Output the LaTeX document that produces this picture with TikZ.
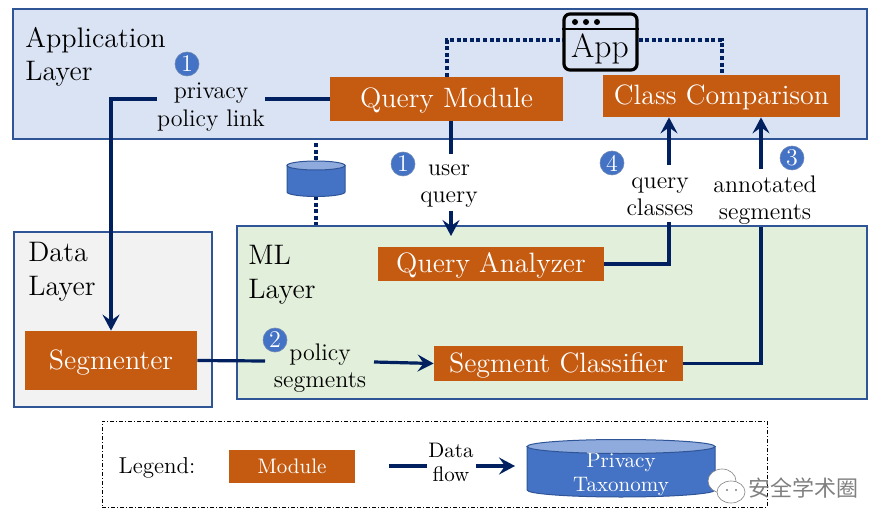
\documentclass[tikz,border=0pt]{standalone}
\usepackage{fontspec}
\newfontfamily\cjk{Noto Sans CJK SC}
\usetikzlibrary{calc,arrows.meta,positioning}
\definecolor{mdlc}{HTML}{C55A11}
\definecolor{flwc}{HTML}{002060}
\definecolor{bluec}{HTML}{4472C4}
\definecolor{lidc}{HTML}{8FAADC}
\definecolor{edgec}{HTML}{2F5597}
\definecolor{appc}{HTML}{DAE3F3}
\definecolor{datac}{HTML}{F2F2F2}
\definecolor{mlc}{HTML}{E2EFDA}
% centre x, half width, lid y, base y, end radius
\newcommand{\dbcyl}[5]{
\draw[cyl, fill=bluec] (#1-#2,#3) -- (#1-#2,#4) arc (180:0:#2 and #5) -- (#1+#2,#3) -- cycle;
\draw[cyl, fill=lidc] (#1,#3) ellipse (#2 and #5);}
\begin{document}
\begin{tikzpicture}[x=.5pt,y=-.5pt,
lyr/.style={draw=edgec, line width=.6pt, inner sep=0pt},
lyrt/.style={align=left, inner sep=0pt, anchor=west, font=\fontsize{14.1}{16.8}\selectfont},
mdl/.style={fill=mdlc, text=white, inner sep=0pt, text height=10pt, text depth=1pt, font=\fontsize{14}{16}\selectfont},
lbl/.style={align=center, inner sep=0pt, font=\fontsize{12}{13.7}\selectfont},
bdg/.style={circle, fill=bluec, draw=edgec!70, line width=.3pt, text=white, inner sep=0pt, minimum size=12pt, font=\fontsize{12}{12}\selectfont},
flw/.style={draw=flwc, line width=1.6pt},
tip/.style={-{Stealth[length=8pt,width=8.5pt,inset=3pt]}},
dtd/.style={draw=flwc, line width=2pt, dash pattern=on 2pt off 1.3pt},
cyl/.style={draw=edgec, line width=.5pt}]
\useasboundingbox (0,0) rectangle (886,528);
% layers
\node[lyr, fill=appc, minimum width=427pt, minimum height=65pt] (applyr) at (440,74) {};
\node[lyr, fill=datac, minimum width=99pt, minimum height=87.5pt] (datalyr) at (113,319.5) {};
\node[lyr, fill=mlc, minimum width=315pt, minimum height=86.5pt] (mllyr) at (552,312.5) {};
\node[lyrt] (apptxt) at (25,57) {Application\\Layer};
\node[lyrt] (datatxt) at (28,272) {Data\\Layer};
\node[lyrt] (mltxt) at (248,275) {ML\\Layer};
% modules
\node[mdl, minimum width=116.5pt, minimum height=22pt] (query) at (446.5,99) {Query Module};
\node[mdl, minimum width=118.5pt, minimum height=21pt] (compare) at (721.5,96) {Class Comparison};
\node[mdl, minimum width=113pt, minimum height=17pt] (analyzer) at (491,264) {Query Analyzer};
\node[mdl, minimum width=124.5pt, minimum height=17.5pt] (classify) at (558.5,363.5) {Segment Classifier};
\node[mdl, minimum width=86pt, minimum height=29.5pt] (segm) at (111,360.5) {Segmenter};
% app window
\node[draw, line width=1.6pt, rounded corners=3pt, minimum width=36.5pt, minimum height=28pt, inner sep=0pt] (app) at (600.5,42) {};
\node[inner sep=0pt, font=\fontsize{16.8}{18}\selectfont] (apptext) at (600,49) {App};
\draw[line width=1.2pt] (app.west |- 0,29) -- (app.east |- 0,29);
\foreach \i in {575,586,597}{\fill (\i,22) circle (1.5pt);}
% labels
\node[lbl] (plink) at (211,107) {privacy\\policy link};
\node[lbl] (uq) at (449,186) {user\\query};
\node[lbl] (qc) at (660,197) {query\\classes};
\node[lbl] (as) at (765,200) {annotated\\segments};
\node[lbl] (ps) at (320,368) {policy\\segments};
% badges
\node[bdg] (b1) at (187,64) {1};
\node[bdg] (b2) at (403,164) {1};
\node[bdg] (b3) at (275,340) {2};
\node[bdg] (b4) at (792,158) {3};
\node[bdg] (b5) at (612,163) {4};
% flows
\draw[flw] (query.west) -- (query.west -| plink.east);
\draw[flw, tip] (plink.west |- query.west) -| (segm.north);
\coordinate (uqa) at (451,121);
\coordinate (uqb) at (451,154);
\coordinate (uqc) at (451,211);
\coordinate (uqd) at (451,236);
\draw[flw] (uqa) -- (uqb);
\draw[flw, tip] (uqc) -- (uqd);
\coordinate (qca) at (669,222);
\coordinate (qcb) at (669,165);
\draw[flw] (analyzer.east) -| (qca);
\draw[flw, tip] (qcb) -- (qcb |- compare.south);
\coordinate (asa) at (761,227);
\coordinate (asb) at (761,169);
\draw[flw] (classify.east) -| (asa);
\draw[flw, tip] (asb) -- (asb |- compare.south);
\coordinate (psa) at (265,361);
\coordinate (psb) at (374,362);
\draw[flw] (segm.east) -- (psa);
\draw[flw, tip] (psb) -- (classify.west);
% database
\coordinate (dba) at (316,143);
\coordinate (dbt) at (316,165);
\coordinate (dbb) at (316,196);
\draw[dtd] (dba) -- (dbt);
\draw[dtd] (dbb) -- (dbb |- mllyr.north);
\dbcyl{316}{29}{165.5}{192}{4.5}
\draw[dtd] (query.north -| 447,0) |- (app.west |- 0,40);
\draw[dtd] (app.east |- 0,40) -| (compare.north);
% legend
\node[draw, line width=.5pt, dash pattern=on 2pt off 1pt on .5pt off 1pt, minimum width=332.5pt, minimum height=43pt, inner sep=0pt] (legend) at (434.5,464) {};
\node[lbl, font=\fontsize{11.5}{13}\selectfont] (legtxt) at (157,468) {Legend:};
\node[mdl, minimum width=63pt, minimum height=16.5pt, text height=7.5pt, text depth=.5pt, font=\fontsize{10.5}{12}\selectfont] (legmdl) at (292,466.5) {Module};
\node[lbl, font=\fontsize{10.5}{12}\selectfont] (legflw) at (451,462) {Data\\flow};
\coordinate (lfa) at (389,466);
\coordinate (lfb) at (427,466);
\coordinate (lfc) at (476,466);
\coordinate (lfd) at (515,466);
\draw[flw] (lfa) -- (lfb);
\draw[flw, tip] (lfc) -- (lfd);
\dbcyl{621}{94}{446.5}{490}{7}
\node[lbl, text=white, font=\fontsize{10.5}{12}\selectfont] (legdbt) at (621,474) {Privacy\\Taxonomy};
% watermark
\fill[white, draw=gray, line width=.3pt] (722,481) ellipse (7pt and 6pt);
\fill[white, draw=gray, line width=.3pt] (731,492) ellipse (7pt and 5.5pt);
\fill[gray] (727,490) circle (.6pt) (736,490) circle (.6pt);
\node[inner sep=0pt, anchor=west, text=gray, font=\cjk\fontsize{11}{12}\selectfont] (wm) at (748,488) {安全学术圈};
\end{tikzpicture}
\end{document}
